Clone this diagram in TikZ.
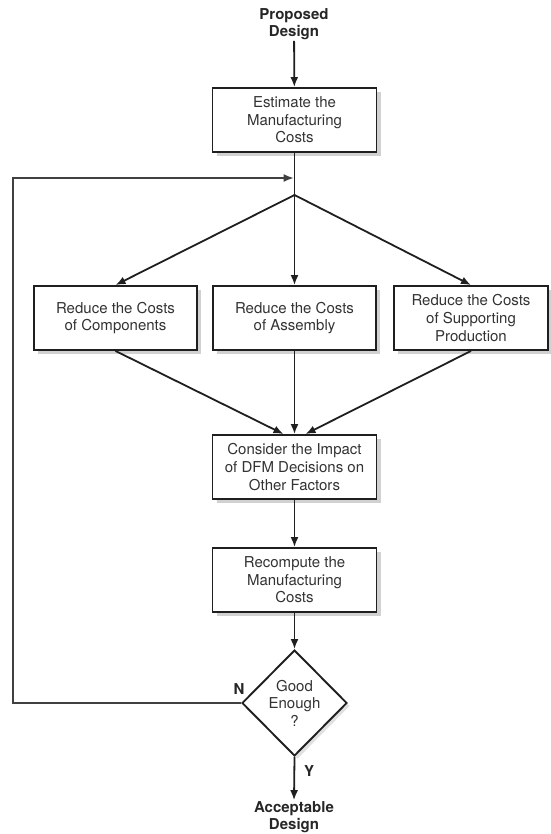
\documentclass[tikz,border=0pt]{standalone}
\usepackage{fontspec}
\setmainfont{TeX Gyre Heros}
\usetikzlibrary{arrows.meta,shapes.geometric,shadows}

\begin{document}
\begin{tikzpicture}[x=1pt,y=-1pt,
  txt/.style={font=\fontsize{15}{17.6}\selectfont, text=black!80, align=center},
  bold/.style={font=\bfseries\fontsize{15}{17}\selectfont, text=black!85, align=center, inner sep=1pt},
  box/.style={txt, draw=black!88, line width=1.9pt, fill=white, inner sep=2pt,
    minimum height=64pt,
    drop shadow={shadow xshift=4pt, shadow yshift=-4pt, fill=black!18, opacity=1}},
  decision/.style={diamond, draw=black!88, line width=1.9pt, fill=white,
    minimum width=105pt, minimum height=106pt, inner sep=0pt,
    drop shadow={shadow xshift=3pt, shadow yshift=-3pt, fill=black!12, opacity=1}},
  link/.style={draw=black!88, line width=1.8pt},
  arr/.style={link, -{Latex[length=10pt,width=8pt]}},
  back/.style={draw=black!75, line width=1.2pt}
]
\useasboundingbox (0,0) rectangle (550,834);

% start and end of the process
\node[bold] (prop) at (294,24) {Proposed\\Design};
\node[bold] (acc) at (294,817) {Acceptable\\Design};

% process steps
\node[box, minimum width=164pt] (est) at (294.5,120) {Estimate the\\Manufacturing\\Costs};
\node[box, minimum width=163pt] (comp) at (115.5,318) {Reduce the Costs\\of Components};
\node[box, minimum width=163pt] (asm) at (294.5,318) {Reduce the Costs\\of Assembly};
\node[box, minimum width=154pt] (sup) at (471,318) {Reduce the Costs\\of Supporting\\Production};
\node[box, minimum width=164pt] (cons) at (294.5,467) {Consider the Impact\\of DFM Decisions on\\Other Factors};
\node[box, minimum width=164pt] (rec) at (294.5,580) {Recompute the\\Manufacturing\\Costs};

% decision
\node[decision] (dec) at (294.5,703) {};
\node[txt] (dectext) at (294.5,703) {Good\\Enough\\?};
\node[bold] (nlab) at (239,689) {N};
\node[bold] (ylab) at (309,771) {Y};

% junction points on the main line
\coordinate (join) at (294.5,178);
\coordinate (split) at (294.5,195);
\coordinate (corner) at (13,178);

% connectors
\draw[arr] (prop) -- (est);
\draw[link] (est) -- (split);
\draw[arr] (split) -- (comp.north);
\draw[arr] (split) -- (asm.north);
\draw[arr] (split) -- (sup.north);
\draw[arr] (comp.south) -- ([xshift=-11pt]cons.north);
\draw[arr] (asm.south) -- (cons.north);
\draw[arr] (sup.south) -- ([xshift=11pt]cons.north);
\draw[arr] (cons) -- (rec);
\draw[arr] (rec) -- (dec.north);
\draw[arr] (dec.south) -- (acc.north);

% loop back when the design is not good enough
\draw[back, -{Latex[length=10pt,width=8pt]}] (dec.west) -- (dec.west -| corner) -- (corner) -- ([xshift=-1pt]join);
\end{tikzpicture}
\end{document}
